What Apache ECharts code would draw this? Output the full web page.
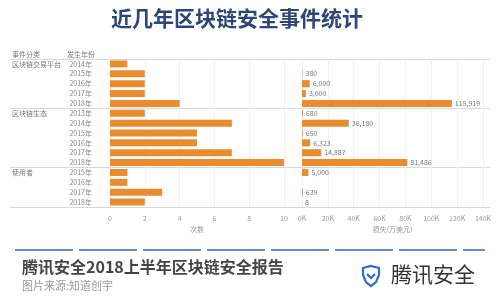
<!DOCTYPE html>
<html><head><meta charset="utf-8">
<script src="https://cdn.jsdelivr.net/npm/echarts@6/dist/echarts.min.js"></script>
<style>html,body{margin:0;padding:0;background:#fff}#c{width:500px;height:300px}</style>
</head><body><div id="c"></div>
<script>
// ---- data ----
var groupNames = ['区块链交易平台', '区块链生态', '使用者'];
var groupYears = [
  ['2014年', '2015年', '2016年', '2017年', '2018年'],
  ['2013年', '2014年', '2015年', '2016年', '2017年', '2018年'],
  ['2015年', '2016年', '2017年', '2018年']
];
var eventCounts = [1, 2, 2, 2, 4, 2, 7, 5, 5, 7, 10, 1, 1, 3, 2];
var lossValues = [null, 380, 6000, 3000, 115919, 680, 36180, 650, 6323, 14887, 81486, 5000, null, 639, 8];
var countTicks = [0, 2, 4, 6, 8, 10];
var lossTicks = ['0K', '20K', '40K', '60K', '80K', '100K', '120K', '140K'];

// ---- build ----
var yearCats = [], groupCats = [], boundaries = [];
groupYears.forEach(function (ys, g) {
  boundaries.push(yearCats.length);
  ys.forEach(function (y, i) { yearCats.push(y); groupCats.push(i === 0 ? groupNames[g] : ''); });
});
var FONT = '"Noto Sans CJK SC", "Noto Sans", sans-serif';
var TOP = 59, H = 148;

var chart = echarts.init(document.getElementById('c'), null, {renderer: 'canvas'});
chart.setOption({
  animation: false,
  textStyle: {fontFamily: FONT},
  title: [{
    text: '近几年区块链安全事件统计', left: 232, top: 3, textAlign: 'center',
    textStyle: {fontSize: 21, fontWeight: 'bold', color: '#2b4778', fontFamily: FONT}
  }],
  grid: [
    {left: 10, right: 10, top: TOP, height: H},
    {left: 110, right: 216, top: TOP, height: H},
    {left: 302, right: 17, top: TOP, height: H}
  ],
  xAxis: [
    {gridIndex: 0, type: 'value', min: 0, max: 1, axisLabel: {show: false}, splitLine: {show: false},
     axisTick: {show: false}, axisLine: {show: true, lineStyle: {color: '#d8d8d8'}}},
    {gridIndex: 1, type: 'value', min: 0, max: countTicks[countTicks.length - 1], interval: countTicks[1] - countTicks[0],
     name: '次数', nameLocation: 'middle', nameGap: 19, nameTextStyle: {fontSize: 7, color: '#999'},
     axisLine: {show: false}, axisTick: {show: false},
     axisLabel: {fontSize: 7, color: '#999', margin: 8},
     splitLine: {show: true, lineStyle: {color: '#f0f0f0'}}},
    {gridIndex: 2, type: 'value', min: 0, max: 140000, interval: 20000,
     name: '损失(万美元)', nameLocation: 'middle', nameGap: 19, nameTextStyle: {fontSize: 7, color: '#999'},
     axisLine: {show: false}, axisTick: {show: false},
     axisLabel: {fontSize: 7, color: '#999', margin: 8, formatter: function (v) { return lossTicks[Math.round(v / 20000)]; }},
     splitLine: {show: true, lineStyle: {color: '#f0f0f0'}}}
  ],
  yAxis: [
    {gridIndex: 0, type: 'category', inverse: true, data: groupCats,
     axisLine: {show: false}, axisTick: {show: false},
     axisLabel: {inside: true, interval: 0, margin: 2, fontSize: 7, color: '#777'},
     splitLine: {show: true, interval: function (idx) { return boundaries.indexOf(idx) >= 0; }, lineStyle: {color: '#d8d8d8'}}},
    {gridIndex: 1, type: 'category', inverse: true, data: yearCats,
     axisLine: {show: false}, axisTick: {show: false},
     axisLabel: {interval: 0, margin: 18, fontSize: 7, color: '#888'}},
    {gridIndex: 2, type: 'category', inverse: true, data: yearCats, show: false}
  ],
  series: [
    {type: 'bar', xAxisIndex: 1, yAxisIndex: 1, data: eventCounts, barWidth: 7,
     itemStyle: {color: '#e98b2f'}},
    {type: 'bar', xAxisIndex: 2, yAxisIndex: 2, data: lossValues, barWidth: 7,
     itemStyle: {color: '#e98b2f'},
     label: {show: true, position: 'right', distance: 3, fontSize: 7, color: '#777',
       formatter: function (p) { return p.value == null ? '' : Number(p.value).toLocaleString('en-US'); }}}
  ],
  graphic: [
    {type: 'text', x: 12, y: 51, style: {text: '事件分类', fill: '#777', font: '7px ' + FONT}},
    {type: 'text', x: 67, y: 51, style: {text: '发生年份', fill: '#777', font: '7px ' + FONT}},
    {type: 'line', shape: {x1: 15, y1: 250, x2: 485, y2: 250},
     style: {stroke: '#2f6cc9', lineWidth: 1.5, lineDash: [58, 6]}},
    {type: 'text', x: 22, y: 259, style: {text: '腾讯安全2018上半年区块链安全报告', fill: '#444', font: 'bold 16px ' + FONT}},
    {type: 'text', x: 22, y: 280, style: {text: '图片来源:知道创宇', fill: '#999', font: '11px ' + FONT}},
    {type: 'polygon', shape: {points: [[363, 268], [371, 266], [379, 268], [379, 275], [376, 282], [371, 286], [366, 282], [363, 275]]},
     style: {fill: 'none', stroke: '#2f6cc9', lineWidth: 2.2}},
    {type: 'polyline', shape: {points: [[367, 274], [371, 278], [375, 274]]},
     style: {fill: 'none', stroke: '#2f6cc9', lineWidth: 2.2}},
    {type: 'text', x: 391, y: 264, style: {text: '腾讯安全', fill: '#333', font: '21px ' + FONT}}
  ]
});
</script></body></html>
